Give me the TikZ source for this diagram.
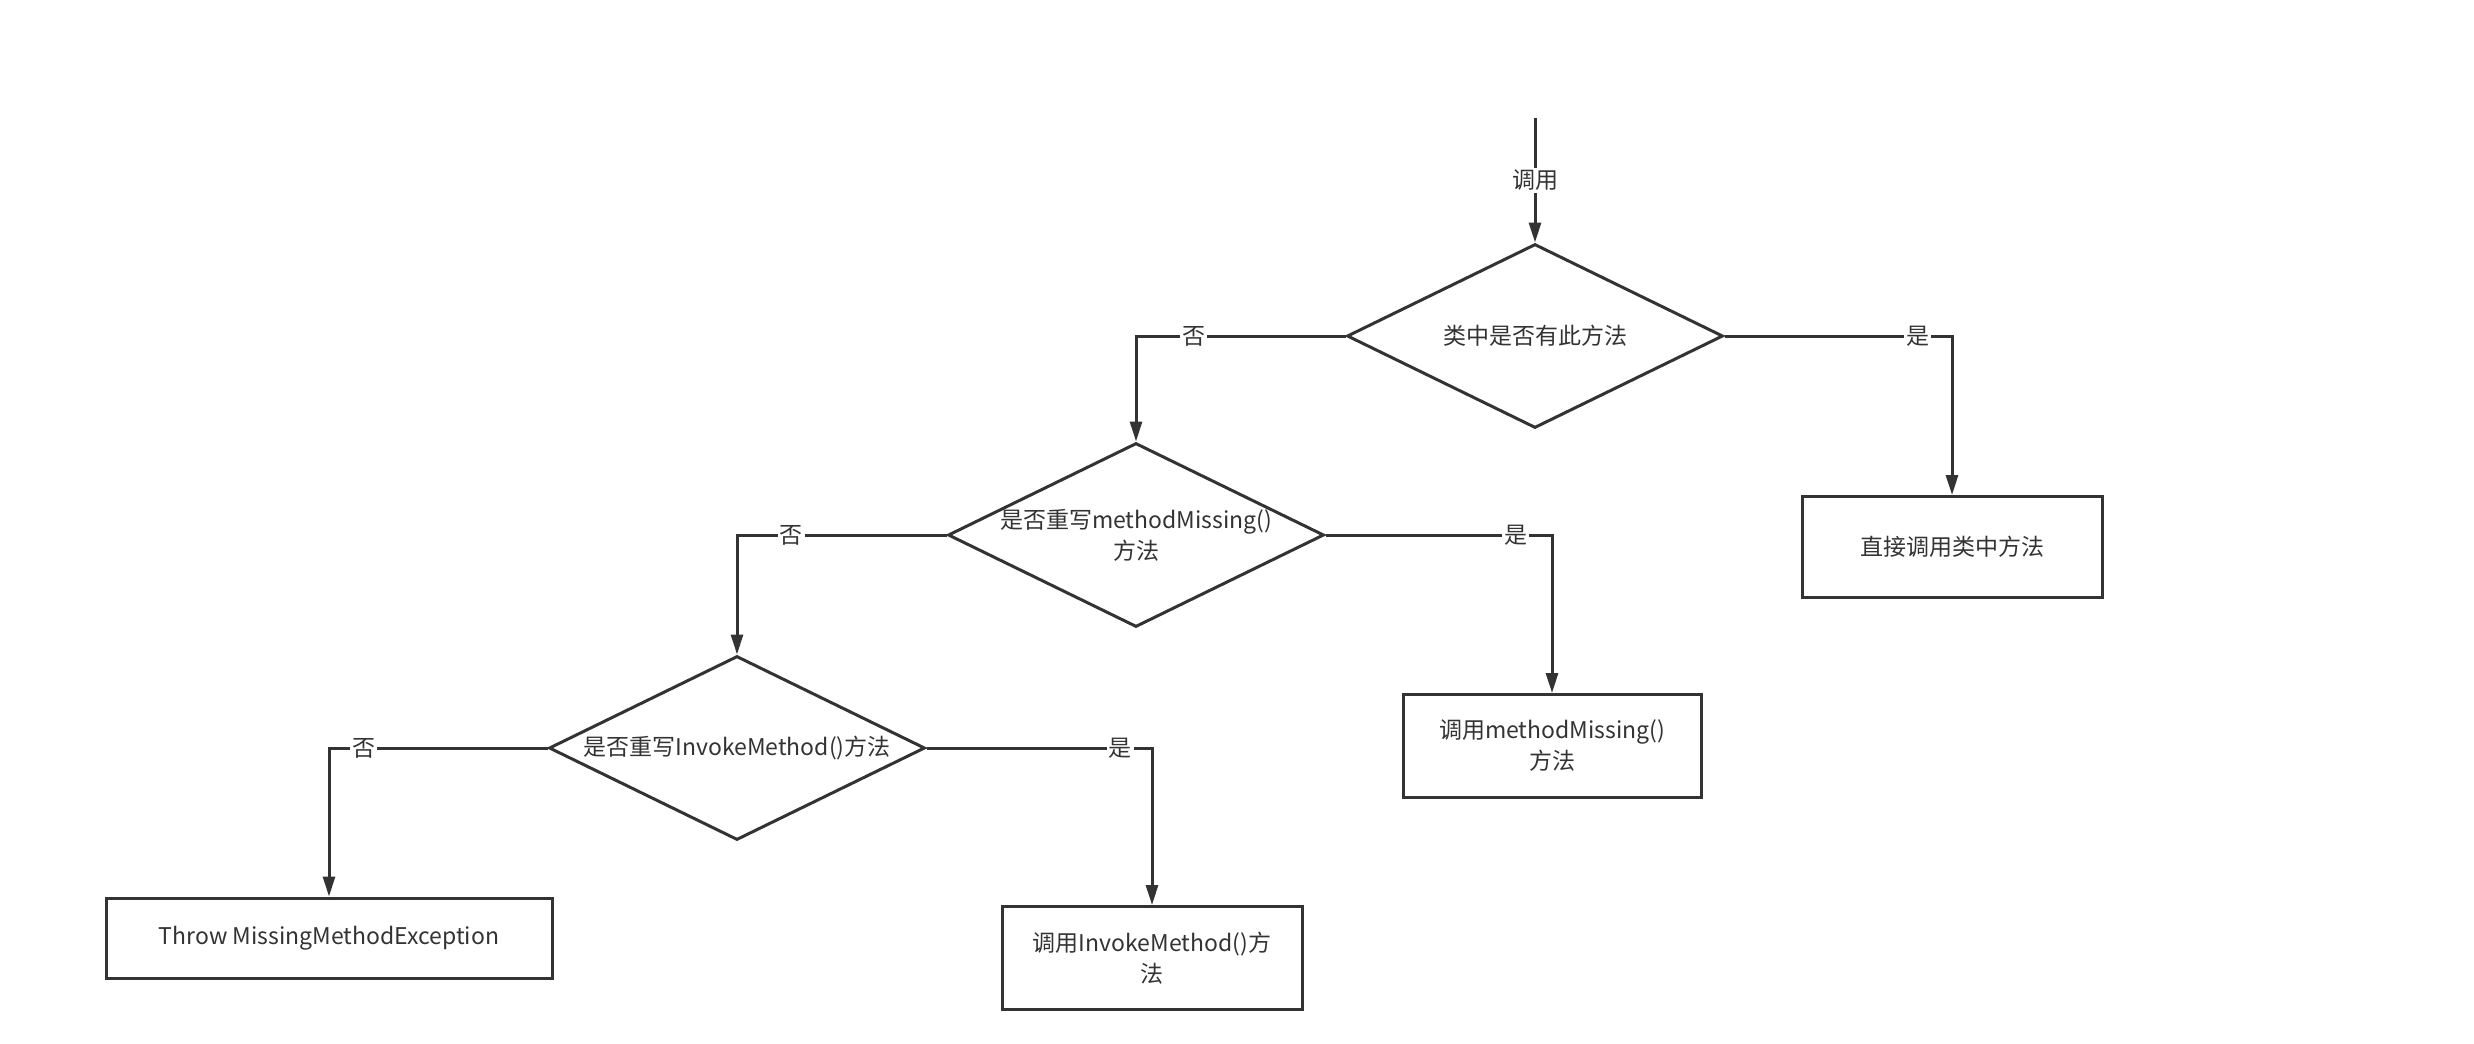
\documentclass[tikz,border=0pt]{standalone}
\usepackage{fontspec}
\setmainfont{Noto Sans CJK SC}
\usetikzlibrary{shapes.geometric,arrows.meta}
\definecolor{ink}{HTML}{333333}
\begin{document}
\begin{tikzpicture}[x=1pt,y=-1pt,
  every node/.style={font=\fontsize{23}{31}\selectfont, text=ink},
  dec/.style={shape=diamond, draw=ink, line width=3pt, minimum width=376pt, minimum height=184pt, inner sep=0pt},
  box/.style={draw=ink, line width=3pt, rectangle, align=center, inner sep=0pt},
  conn/.style={draw=ink, line width=3pt, -{Triangle[length=20pt,width=12pt]}},
  lbl/.style={fill=white, inner sep=2pt}]
\useasboundingbox[fill=white] (0,0) rectangle (2474,1044);

\coordinate (start) at (1535,118);
\node[dec, label={[align=center]center:类中是否有此方法}] (d1) at (1535,336) {};
\node[dec, label={[align=center]center:是否重写methodMissing()\\方法}] (d2) at (1136,535) {};
\node[dec, label={[align=center]center:是否重写InvokeMethod()方法}] (d3) at (737,748) {};

\node[box, minimum width=300pt, minimum height=101pt] (b1) at (1952,547) {直接调用类中方法};
\node[box, minimum width=298pt, minimum height=103pt] (b2) at (1552,746) {调用methodMissing()\\方法};
\node[box, minimum width=446pt, minimum height=80pt] (b3) at (329,938) {Throw MissingMethodException};
\node[box, minimum width=300pt, minimum height=103pt] (b4) at (1152,958) {调用InvokeMethod()方\\法};

\draw[conn] (start) -- node[lbl, pos=0.5]{调用} (d1.north);
\draw[conn] (d1.west) -- node[lbl, pos=0.725]{否} (d1.west -| d2.north) -- (d2.north);
\draw[conn] (d1.east) -- node[lbl, pos=0.85]{是} (d1.east -| b1.north) -- (b1.north);
\draw[conn] (d2.west) -- node[lbl, pos=0.74]{否} (d2.west -| d3.north) -- (d3.north);
\draw[conn] (d2.east) -- node[lbl, pos=0.84]{是} (d2.east -| b2.north) -- (b2.north);
\draw[conn] (d3.west) -- node[lbl, pos=0.84]{否} (d3.west -| b3.north) -- (b3.north);
\draw[conn] (d3.east) -- node[lbl, pos=0.86]{是} (d3.east -| b4.north) -- (b4.north);
\end{tikzpicture}
\end{document}
